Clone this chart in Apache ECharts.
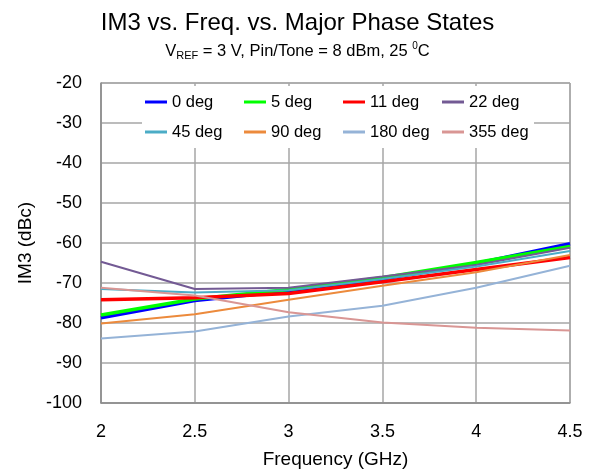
<!DOCTYPE html>
<html>
<head>
<meta charset="utf-8">
<script src="https://cdn.jsdelivr.net/npm/echarts@6/dist/echarts.min.js"></script>
<style>
  html, body { margin: 0; padding: 0; background: #fff; }
  #chart { width: 595px; height: 475px; }
</style>
</head>
<body>
<div id="chart"></div>
<script>
// frequency points (GHz)
var freq = [2, 2.5, 3, 3.5, 4, 4.5];

// IM3 (dBc) per phase state
var deg0   = [-78.7, -74.4, -72.0, -69.0, -65.1, -60.2];
var deg5   = [-78.0, -74.0, -71.6, -68.7, -64.9, -60.9];
var deg11  = [-74.2, -73.7, -72.6, -69.7, -66.6, -63.6];
var deg22  = [-64.7, -71.5, -71.2, -68.4, -65.5, -61.2];
var deg45  = [-71.5, -72.4, -71.8, -69.0, -65.9, -62.0];
var deg90  = [-80.1, -77.8, -74.2, -70.7, -67.3, -63.0];
var deg180 = [-83.9, -82.1, -78.4, -75.7, -71.2, -65.7];
var deg355 = [-71.2, -73.1, -77.3, -79.9, -81.2, -81.9];

var names  = ['0 deg', '5 deg', '11 deg', '22 deg', '45 deg', '90 deg', '180 deg', '355 deg'];
var values = [deg0, deg5, deg11, deg22, deg45, deg90, deg180, deg355];
var colors = ['#0000ff', '#00ff00', '#ff0000', '#735a94', '#4bacc6', '#ec8a3c', '#95b3d7', '#d99694'];
var widths = [3.5, 3.5, 3.5, 2, 2, 2, 2, 2];

var font = "'Liberation Sans', Arial, sans-serif";

var series = [];
for (var i = 0; i < names.length; i++) {
    var pts = [];
    for (var j = 0; j < freq.length; j++) {
        pts.push([freq[j], values[i][j]]);
    }
    series.push({
        name: names[i],
        type: 'line',
        data: pts,
        symbol: 'none',
        smooth: false,
        color: colors[i],
        lineStyle: { width: widths[i], color: colors[i] }
    });
}

var chart = echarts.init(document.getElementById('chart'));
var option = {
    animation: false,
    backgroundColor: '#fff',
    title: {
        text: 'IM3 vs. Freq. vs. Major Phase States',
        subtext: '{n|V}{sub|REF}{n| = 3 V, Pin/Tone = 8 dBm, 25 }{sup|0}{n|C}',
        left: 'center',
        top: 6,
        itemGap: 6,
        textStyle: { fontFamily: font, fontSize: 24, fontWeight: 'normal', color: '#000' },
        subtextStyle: {
            fontFamily: font, color: '#000',
            rich: {
                n: { fontFamily: font, fontSize: 16.5, lineHeight: 20, color: '#000' },
                sub: { fontFamily: font, fontSize: 11, lineHeight: 10, verticalAlign: 'bottom', color: '#000' },
                sup: { fontFamily: font, fontSize: 10, lineHeight: 10, verticalAlign: 'top', color: '#000' }
            }
        }
    },
    legend: {
        data: names,
        left: 142,
        top: 86,
        width: 390,
        padding: [6, 3, 6, 3],
        itemGap: 10,
        itemWidth: 22,
        itemHeight: 3,
        icon: 'rect',
        backgroundColor: '#fff',
        textStyle: { fontFamily: font, fontSize: 16.5, color: '#000', width: 62, lineHeight: 20 }
    },
    grid: { left: 101, right: 25, top: 83, bottom: 72, show: true, borderColor: '#8c8c8c', borderWidth: 1 },
    xAxis: {
        type: 'value',
        min: 2, max: 4.5, interval: 0.5,
        name: 'Frequency (GHz)',
        nameLocation: 'middle',
        nameGap: 47,
        nameTextStyle: { fontFamily: font, fontSize: 19, color: '#000' },
        axisLine: { lineStyle: { color: '#8c8c8c', width: 1.5 } },
        axisTick: { show: false },
        axisLabel: { fontFamily: font, fontSize: 18, color: '#000', margin: 20 },
        splitLine: { show: true, lineStyle: { color: '#a6a6a6', width: 1.5 } }
    },
    yAxis: {
        type: 'value',
        min: -100, max: -20, interval: 10,
        name: 'IM3 (dBc)',
        nameLocation: 'middle',
        nameGap: 58,
        nameTextStyle: { fontFamily: font, fontSize: 19, color: '#000' },
        axisLine: { show: true, lineStyle: { color: '#8c8c8c', width: 1.5 } },
        axisTick: { show: false },
        axisLabel: { fontFamily: font, fontSize: 18, color: '#000', margin: 19 },
        splitLine: { show: true, lineStyle: { color: '#a6a6a6', width: 1.5 } }
    },
    series: series
};
option && chart.setOption(option);
</script>
</body>
</html>
